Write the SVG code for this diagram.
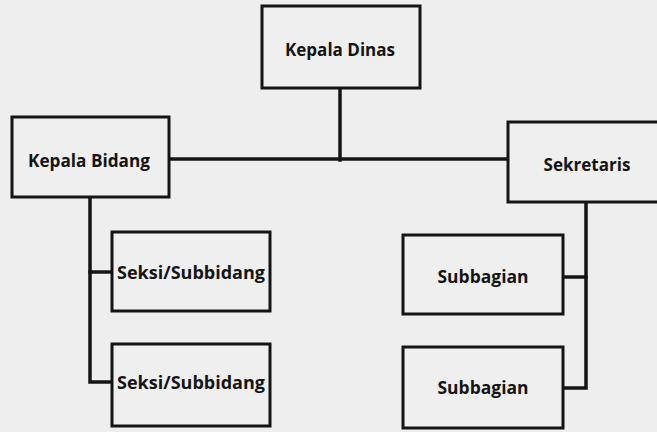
<svg xmlns="http://www.w3.org/2000/svg" width="657" height="432" viewBox="0 0 657 432">
<style>
.box{fill:#efefef;stroke:#141414;stroke-width:3}
.lbl{font-family:"Open Sans","Noto Sans","Liberation Sans",sans-serif;font-weight:700;font-size:17px;fill:#141414;text-anchor:middle;dominant-baseline:central}
.con{fill:none;stroke:#141414;stroke-width:3.5;stroke-linecap:square;stroke-linejoin:miter}
</style>
<rect width="657" height="432" fill="#eeeeee"/>
<g id="connectors">
<path class="con" d="M340 88 V160"/>
<path class="con" d="M169 159 H508"/>
<path class="con" d="M90 197 V382 H112"/>
<path class="con" d="M90 272 H112"/>
<path class="con" d="M586 202 V388 H563"/>
<path class="con" d="M586 277 H563"/>
</g>
<g id="kepala-dinas"><rect class="box" x="262" y="6" width="158" height="82"/><text class="lbl" x="340" y="49" textLength="110" lengthAdjust="spacingAndGlyphs">Kepala Dinas</text></g>
<g id="kepala-bidang"><rect class="box" x="12" y="117" width="157" height="80"/><text class="lbl" x="89" y="160" textLength="122" lengthAdjust="spacingAndGlyphs">Kepala Bidang</text></g>
<g id="sekretaris"><rect class="box" x="508" y="122" width="160" height="80"/><text class="lbl" x="587" y="164" textLength="87" lengthAdjust="spacingAndGlyphs">Sekretaris</text></g>
<g id="seksi-1"><rect class="box" x="112" y="232" width="158" height="79"/><text class="lbl" x="191" y="272" textLength="148" lengthAdjust="spacingAndGlyphs">Seksi/Subbidang</text></g>
<g id="seksi-2"><rect class="box" x="112" y="344" width="158" height="82"/><text class="lbl" x="191" y="382" textLength="148" lengthAdjust="spacingAndGlyphs">Seksi/Subbidang</text></g>
<g id="subbagian-1"><rect class="box" x="403" y="235" width="160" height="79"/><text class="lbl" x="483" y="276" textLength="91" lengthAdjust="spacingAndGlyphs">Subbagian</text></g>
<g id="subbagian-2"><rect class="box" x="403" y="347" width="160" height="81"/><text class="lbl" x="483" y="387" textLength="91" lengthAdjust="spacingAndGlyphs">Subbagian</text></g>
</svg>
